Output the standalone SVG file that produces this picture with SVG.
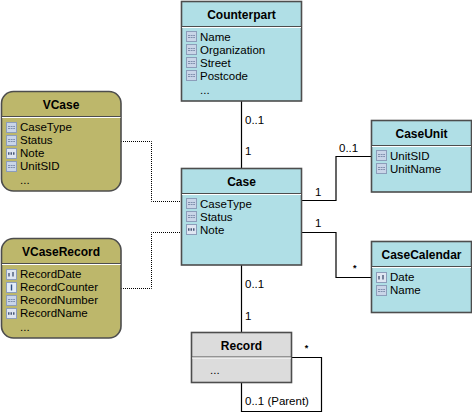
<svg xmlns="http://www.w3.org/2000/svg" width="472" height="413" viewBox="0 0 472 413">
<style>
.t{font-family:"Liberation Sans",Arial,sans-serif;font-size:11.5px;fill:#000}
.h{font-family:"Liberation Sans",Arial,sans-serif;font-size:12px;font-weight:bold;fill:#000;text-anchor:middle}
.a{font-family:"Liberation Sans",Arial,sans-serif;font-size:9px;font-weight:bold;fill:#000}
.b{fill:#b0dfe6;stroke:#4d4d4d;stroke-width:1.6}
.o{fill:#bdb76b;stroke:#4d4d4d;stroke-width:1.6}
.g{fill:#dcdcdc;stroke:#4d4d4d;stroke-width:1.6}
.d{stroke:#4d4d4d;stroke-width:1;fill:none}
.w{stroke:#fff;stroke-width:1;fill:none}
.c{fill:none;stroke:#000;stroke-width:1.2}
.s{fill:none;stroke:#000;stroke-width:1;stroke-dasharray:1 1}
</style>
<defs>
<g id="ia"><rect x=".5" y=".5" width="10" height="10" fill="#c9d5e8" stroke="#8c9dba"/><path d="M2 4.5h7M2 6.5h7" stroke="#8090ad" stroke-width="1.2" stroke-dasharray="2 .6"/></g>
<g id="ix"><rect x=".5" y=".5" width="10" height="10" fill="#dfe6f2" stroke="#8c9dba"/><path d="M2 5.5h7" stroke="#4a5a78" stroke-width="2.4" stroke-dasharray="1.5 1"/></g>
<g id="id"><rect x=".5" y=".5" width="10" height="10" fill="#dfe6f2" stroke="#8c9dba"/><path d="M3 4v3.5M7 3v4.5" stroke="#4a5a78" stroke-width="1.4"/></g>
<g id="ii"><rect x=".5" y=".5" width="10" height="10" fill="#e2ecf8" stroke="#8c9dba"/><path d="M5.5 2.5v6" stroke="#2f4f80" stroke-width="1.4"/></g>
</defs>
<g id="connectors">
<path class="c" d="M241.5 101V168"/>
<path class="c" d="M241.5 265V332"/>
<path class="c" d="M301 200.5H336V156.5H371"/>
<path class="c" d="M301 232.5H336V277.5H371"/>
<path class="c" d="M291 357.5H321.5V411.5H241.5V382"/>
<path class="s" d="M121 141.5H151.5V201.5H181"/>
<path class="s" d="M121 288.5H151.5V232.5H181"/>
<g class="t">
<text x="245" y="124">0..1</text>
<text x="245" y="155">1</text>
<text x="339" y="152">0..1</text>
<text x="315" y="196">1</text>
<text x="315" y="227">1</text>
<text x="245" y="288">0..1</text>
<text x="245" y="320">1</text>
<text x="245" y="405">0..1 (Parent)</text>
</g>
<text class="a" x="353" y="271">*</text>
<text class="a" x="304.7" y="350.5">*</text>
</g>
<g id="counterpart">
<rect class="b" x="181.5" y="1.5" width="120" height="99.5"/>
<path class="d" d="M181.5 26.5H301.5"/><path class="w" d="M182 27.5H301"/>
<text class="h" x="241.5" y="19">Counterpart</text>
<use href="#ia" x="186" y="31"/><use href="#ia" x="186" y="44"/><use href="#ia" x="186" y="57"/><use href="#ia" x="186" y="70"/>
<g class="t"><text x="200" y="41">Name</text><text x="200" y="54">Organization</text><text x="200" y="67">Street</text><text x="200" y="80">Postcode</text><text x="200" y="94">...</text></g>
</g>
<g id="vcase">
<rect class="o" x="1.5" y="91.5" width="119.5" height="99.5" rx="12"/>
<path class="d" d="M1.5 116.5H121"/><path class="w" d="M2 117.5H120.5"/>
<text class="h" x="61" y="109">VCase</text>
<use href="#ia" x="6" y="122"/><use href="#ia" x="6" y="135"/><use href="#ix" x="6" y="148"/><use href="#ia" x="6" y="161"/>
<g class="t"><text x="20" y="131">CaseType</text><text x="20" y="144">Status</text><text x="20" y="157">Note</text><text x="20" y="170">UnitSID</text><text x="20" y="184">...</text></g>
</g>
<g id="vcaserecord">
<rect class="o" x="1.5" y="238.5" width="119.5" height="99.5" rx="12"/>
<path class="d" d="M1.5 263.5H121"/><path class="w" d="M2 264.5H120.5"/>
<text class="h" x="61" y="256">VCaseRecord</text>
<use href="#id" x="6" y="269"/><use href="#ii" x="6" y="282"/><use href="#ia" x="6" y="295"/><use href="#ix" x="6" y="308"/>
<g class="t"><text x="20" y="278">RecordDate</text><text x="20" y="291">RecordCounter</text><text x="20" y="304">RecordNumber</text><text x="20" y="317">RecordName</text><text x="20" y="331">...</text></g>
</g>
<g id="case">
<rect class="b" x="181.5" y="168.5" width="120" height="96.5"/>
<path class="d" d="M181.5 193.5H301.5"/><path class="w" d="M182 194.5H301"/>
<text class="h" x="241.5" y="186">Case</text>
<use href="#ia" x="186" y="198"/><use href="#ia" x="186" y="211"/><use href="#ix" x="186" y="224"/>
<g class="t"><text x="200" y="208">CaseType</text><text x="200" y="221">Status</text><text x="200" y="234">Note</text></g>
</g>
<g id="caseunit">
<rect class="b" x="371.5" y="120.5" width="100" height="71.5"/>
<path class="d" d="M371.5 145.5H471.5"/><path class="w" d="M372 146.5H471"/>
<text class="h" x="421.5" y="138">CaseUnit</text>
<use href="#ia" x="376" y="150"/><use href="#ia" x="376" y="163"/>
<g class="t"><text x="390" y="160">UnitSID</text><text x="390" y="173">UnitName</text></g>
</g>
<g id="casecalendar">
<rect class="b" x="371.5" y="241.5" width="100" height="71"/>
<path class="d" d="M371.5 266.5H471.5"/><path class="w" d="M372 267.5H471"/>
<text class="h" x="421.5" y="259">CaseCalendar</text>
<use href="#id" x="376" y="272"/><use href="#ia" x="376" y="285"/>
<g class="t"><text x="390" y="281">Date</text><text x="390" y="294">Name</text></g>
</g>
<g id="record">
<rect class="g" x="191.5" y="332.5" width="100" height="50"/>
<path class="d" d="M191.5 357H291.5"/><path class="w" d="M192 358H291"/>
<text class="h" x="241.5" y="350">Record</text>
<text class="t" x="210" y="374">...</text>
</g>
</svg>
